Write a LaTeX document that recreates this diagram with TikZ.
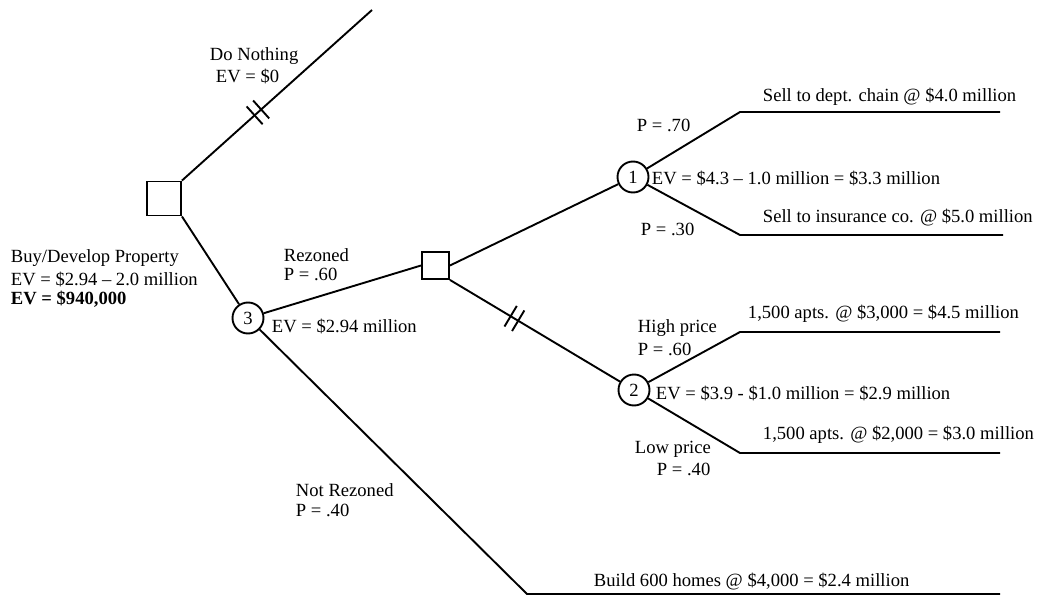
\documentclass[tikz,border=0pt]{standalone}
\usepackage{fontspec}
\setmainfont{Liberation Serif}
\usetikzlibrary{decorations.markings}
\begin{document}
\begin{tikzpicture}[x=0.5pt,y=-0.5pt,
  every path/.style={line width=0.95pt},
  lbl/.style={anchor=west,inner sep=0pt,font=\fontsize{9.3}{11}\selectfont},
  dec/.style={draw,line width=0.95pt,minimum size=17pt,inner sep=0pt},
  chance/.style={draw,circle,line width=0.95pt,minimum size=15.5pt,inner sep=0pt,font=\fontsize{9.3}{11}\selectfont},
  hatched/.style={postaction={decorate},decoration={markings,mark=at position #1 with {
     \draw[line width=0.95pt] (-2.2pt,-6pt) -- (-2.2pt,6pt);
     \draw[line width=0.95pt] (2.2pt,-6pt) -- (2.2pt,6pt);}}}
]
\useasboundingbox (0,0) rectangle (1038,599);
% nodes
\node[dec] (A) at (164,198.5) {};
\node[dec,minimum size=13.5pt] (B) at (435.5,265.5) {};
\node[chance] (c3) at (248,318) {3};
\node[chance] (c1) at (633,177) {1};
\node[chance] (c2) at (634,390) {2};
\coordinate (top) at (372,10);
\coordinate (b1) at (740,112); \coordinate (e1) at (1000,112);
\coordinate (b2) at (740,235); \coordinate (e2) at (1003,235);
\coordinate (b3) at (740,332); \coordinate (e3) at (1000,332);
\coordinate (b4) at (740,453); \coordinate (e4) at (1000,453);
\coordinate (b5) at (527,594); \coordinate (e5) at (1000,594);
% connectors
\draw[hatched=0.4] (A.north east) -- (top);
\draw (A.south east) -- (c3);
\draw (c3) -- (B.west);
\draw (c3) -- (b5) -- (e5);
\draw (B.east) -- (c1);
\draw[hatched=0.38] (B.south east) -- (c2);
\draw (c1) -- (b1) -- (e1);
\draw (c1) -- (b2) -- (e2);
\draw (c2) -- (b3) -- (e3);
\draw (c2) -- (b4) -- (e4);
% labels
\node[lbl] (t1) at (209,56) {Do Nothing};
\node[lbl] (t2) at (215,76) {EV = \$0};
\node[lbl] (t3) at (10,258) {Buy/Develop Property};
\node[lbl] (t4) at (10,279) {EV = \$2.94 -- 2.0 million};
\node[lbl,font=\fontsize{9.3}{11}\selectfont\bfseries] (t5) at (10,299) {EV = \$940,000};
\node[lbl] (t6) at (283,255) {Rezoned};
\node[lbl] (t7) at (283,274) {P = .60};
\node[lbl] (t8) at (271,326) {EV = \$2.94 million};
\node[lbl] (t9) at (636,125) {P = .70};
\node[lbl] (t10) at (640,229) {P = .30};
\node[lbl] (t11) at (651,178) {EV = \$4.3 -- 1.0 million = \$3.3 million};
\node[lbl] (t12) at (762,97) {Sell to dept. chain @ \$4.0 million};
\node[lbl] (t13) at (762,218) {Sell to insurance co. @ \$5.0 million};
\node[lbl] (t14) at (637,328) {High price};
\node[lbl] (t15) at (637,349) {P = .60};
\node[lbl] (t16) at (655,393) {EV = \$3.9 - \$1.0 million = \$2.9 million};
\node[lbl] (t17) at (747,314) {1,500 apts. @ \$3,000 = \$4.5 million};
\node[lbl] (t18) at (762,435) {1,500 apts. @ \$2,000 = \$3.0 million};
\node[lbl] (t19) at (634,449) {Low price};
\node[lbl] (t20) at (656,469) {P = .40};
\node[lbl] (t21) at (295,490) {Not Rezoned};
\node[lbl] (t22) at (295,510) {P = .40};
\node[lbl] (t23) at (593,582) {Build 600 homes @ \$4,000 = \$2.4 million};
\end{tikzpicture}
\end{document}
